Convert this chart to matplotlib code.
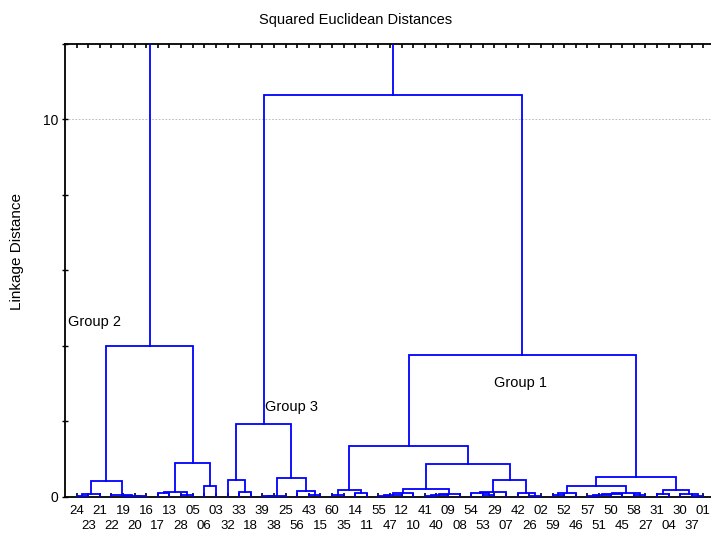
import matplotlib.pyplot as plt
import numpy as np

plt.rcParams['font.family'] = ['Liberation Sans', 'DejaVu Sans']

# leaf order along the x axis
leaves = ["24", "23", "21", "22", "19", "20", "16", "17", "13", "28", "05", "06", "03",
          "32", "33", "18", "39", "38", "25", "56", "43", "15", "60", "35", "14", "11",
          "55", "47", "12", "10", "41", "40", "09", "08", "54", "53", "29", "07", "42",
          "26", "02", "59", "52", "46", "57", "51", "50", "45", "58", "27", "31", "04",
          "30", "37", "01"]

# merges: (left, right, linkage distance); str = leaf, int = earlier merge
merges = [
    ("24", "23", 0.02), (0, "21", 0.07), ("20", "16", 0.01), ("19", 2, 0.02),
    ("22", 3, 0.03), (1, 4, 0.42), ("17", "13", 0.09), ("28", "05", 0.03),
    (6, 7, 0.13), ("06", "03", 0.28), (8, 9, 0.90), (5, 10, 3.99),
    ("33", "18", 0.11), ("32", 12, 0.45), ("39", "38", 0.01), (14, "25", 0.02),
    ("43", "15", 0.03), ("56", 16, 0.14), (15, 17, 0.48), (13, 18, 1.92),
    ("60", "35", 0.03), ("14", "11", 0.10), (20, 21, 0.16), ("55", "47", 0.02),
    (23, "12", 0.05), (24, "10", 0.08), ("41", "40", 0.02), (26, "09", 0.05),
    (27, "08", 0.07), (25, 28, 0.19), ("53", "29", 0.03), ("54", 30, 0.09),
    (31, "07", 0.12), ("26", "02", 0.02), ("42", 33, 0.10), (32, 34, 0.45),
    (29, 35, 0.86), (22, 36, 1.34), ("59", "52", 0.03), (38, "46", 0.10),
    ("57", "51", 0.02), (40, "50", 0.04), (41, "45", 0.06), ("58", "27", 0.03),
    (42, 43, 0.10), (39, 44, 0.28), ("31", "04", 0.07), ("37", "01", 0.02),
    ("30", 47, 0.06), (46, 48, 0.18), (45, 49, 0.51), (37, 50, 3.76),
    (19, 51, 10.66), (11, 52, 14.0),
]

groups = [("Group 2", -0.73, 4.63), ("Group 3", 16.24, 2.38), ("Group 1", 35.96, 3.01)]

fig = plt.figure(figsize=(7.11, 5.36), dpi=100)
ax = fig.add_axes([65 / 711, 39.5 / 536, 650 / 711, 452.5 / 536])

leaf_x = {name: i for i, name in enumerate(leaves)}
node_x, node_h = [], []


def pos(ref):
    if isinstance(ref, str):
        return leaf_x[ref], 0.0
    return node_x[ref], node_h[ref]


for a, b, h in merges:
    xa, ha = pos(a)
    xb, hb = pos(b)
    ax.plot([xa, xa, xb, xb], [ha, h, h, hb], color='#0000ff', lw=1.3,
            solid_joinstyle='miter', zorder=3)
    node_x.append((xa + xb) / 2)
    node_h.append(h)

for text, x, y in groups:
    ax.text(x, y, text, fontsize=10.5, ha='left', va='center')

ax.set_xlim(-1, 55)
ax.set_ylim(0, 12)

idx = np.arange(len(leaves))
ax.set_xticks(idx[::2])
ax.set_xticklabels(leaves[::2])
ax.set_xticks(idx[1::2], minor=True)
ax.set_xticklabels(leaves[1::2], minor=True)
ax.tick_params(axis='x', which='both', direction='in', length=3, width=1.2,
               top=True, labelsize=9.5)
ax.tick_params(axis='x', which='major', pad=6)
ax.tick_params(axis='x', which='minor', pad=17)

ax.set_yticks([0, 10])
ax.set_yticks([2, 4, 6, 8, 12], minor=True)
ax.tick_params(axis='y', which='both', direction='inout', length=4, width=1.0,
               labelsize=10, pad=3)
ax.yaxis.grid(True, which='major', color='#b0b0b0', linestyle=(0, (2, 2)), lw=0.6)

for side in ['left', 'bottom', 'top']:
    ax.spines[side].set_linewidth(1.3)
ax.spines['right'].set_visible(False)

fig.text(356 / 711, 1 - 20 / 536, "Squared Euclidean Distances", fontsize=10.5,
         ha='center', va='center')
fig.text(17 / 711, 1 - 251 / 536, "Linkage Distance", fontsize=11, rotation=90,
         ha='center', va='center')

fig.savefig('out.png', dpi=100)
